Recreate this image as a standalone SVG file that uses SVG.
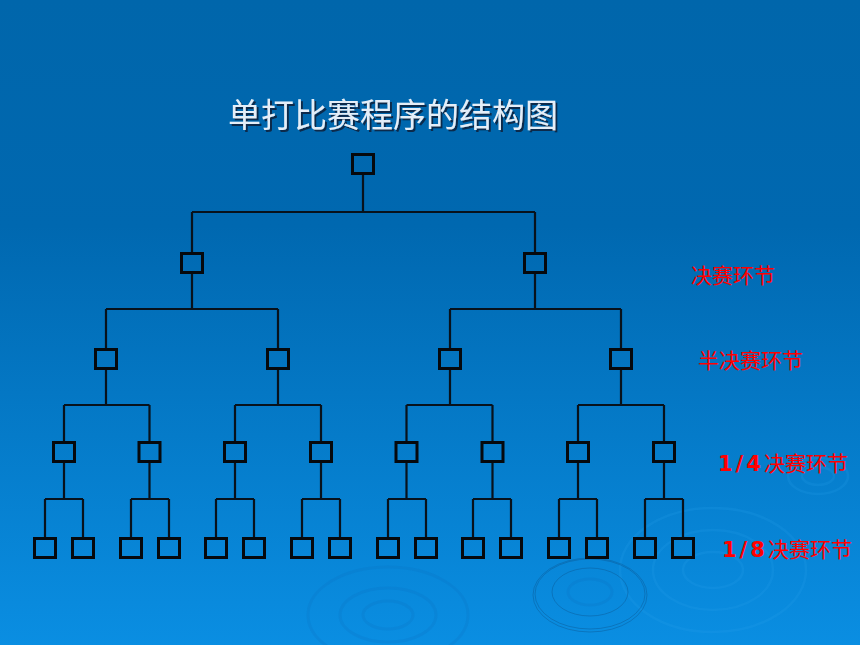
<svg xmlns="http://www.w3.org/2000/svg" width="860" height="645" viewBox="0 0 860 645">
  <defs>
    <linearGradient id="bg" x1="0" y1="0" x2="0" y2="1">
      <stop offset="0" stop-color="#0066ab"/>
      <stop offset="0.35" stop-color="#0068b0"/>
      <stop offset="1" stop-color="#0a8ee2"/>
    </linearGradient>
    <filter id="shadow" x="-10%" y="-30%" width="120%" height="160%">
      <feDropShadow dx="2" dy="2" stdDeviation="0.6" flood-color="#082238" flood-opacity="0.85"/>
    </filter>
    <style>
      .box { fill: none; stroke: #06090d; stroke-width: 3; }
      .line { fill: none; stroke: #08121c; stroke-width: 2.2; }
      .ripple-d { fill: none; stroke: #0a5a98; stroke-width: 0.8; opacity: 0.6; }
      .ripple-l { fill: none; stroke: #2aa0ec; stroke-width: 2.5; opacity: 0.2; }
      .ripple-m { fill: none; stroke: #0870bc; stroke-width: 3; opacity: 0.2; }
      .title { font-family: "Noto Sans CJK SC", "Noto Sans", sans-serif; font-size: 33px; fill: #e4eef8; }
      .lbl { font-family: "Noto Sans CJK SC", sans-serif; font-size: 21px; fill: #ff0000; }
      .num { font-family: "DejaVu Sans", "Liberation Sans", sans-serif; font-weight: bold; letter-spacing: 3px; }
    </style>
  </defs>

  <rect x="0" y="0" width="860" height="645" fill="url(#bg)"/>

  <!-- decorative ripples -->
  <g id="ripples">
    <ellipse class="ripple-l" cx="713" cy="570" rx="93" ry="62"/>
    <ellipse class="ripple-l" cx="713" cy="570" rx="60" ry="40"/>
    <ellipse class="ripple-l" cx="713" cy="570" rx="30" ry="18"/>
    <ellipse class="ripple-d" cx="590" cy="592" rx="38" ry="24"/>
    <ellipse class="ripple-d" cx="590" cy="594" rx="55" ry="35"/>
    <ellipse class="ripple-d" cx="590" cy="595" rx="57" ry="37"/>
    <ellipse class="ripple-m" cx="590" cy="592" rx="22" ry="13"/>
    <ellipse class="ripple-m" cx="388" cy="615" rx="48" ry="27"/>
    <ellipse class="ripple-m" cx="388" cy="615" rx="25" ry="14"/>
    <ellipse class="ripple-m" cx="388" cy="615" rx="80" ry="48"/>
    <ellipse class="ripple-l" cx="818" cy="476" rx="30" ry="18"/>
    <ellipse class="ripple-l" cx="818" cy="476" rx="16" ry="9"/>
  </g>

  <text class="title" x="228" y="127" filter="url(#shadow)">单打比赛程序的结构图</text>

  <g id="connectors">
    <!-- level 0 to 1 -->
    <path class="line" d="M363 175V212M192 212H535M192 212V252M535 212V252"/>
    <!-- level 1 to 2 -->
    <path class="line" d="M192 274V309M106 309H278M106 309V348M278 309V348"/>
    <path class="line" d="M535 274V309M450 309H621M450 309V348M621 309V348"/>
    <!-- level 2 to 3 -->
    <path class="line" d="M106 370V405M64 405H149.5M64 405V441M149.5 405V441"/>
    <path class="line" d="M278 370V405M235 405H321M235 405V441M321 405V441"/>
    <path class="line" d="M450 370V405M406.5 405H492.5M406.5 405V441M492.5 405V441"/>
    <path class="line" d="M621 370V405M578 405H664M578 405V441M664 405V441"/>
    <!-- level 3 to 4 -->
    <path class="line" d="M64 463V499M45 499H83M45 499V537M83 499V537"/>
    <path class="line" d="M149.5 463V499M131 499H169M131 499V537M169 499V537"/>
    <path class="line" d="M235 463V499M216 499H254M216 499V537M254 499V537"/>
    <path class="line" d="M321 463V499M302 499H340M302 499V537M340 499V537"/>
    <path class="line" d="M406.5 463V499M388 499H426M388 499V537M426 499V537"/>
    <path class="line" d="M492.5 463V499M473 499H511M473 499V537M511 499V537"/>
    <path class="line" d="M578 463V499M559 499H597M559 499V537M597 499V537"/>
    <path class="line" d="M664 463V499M645 499H683M645 499V537M683 499V537"/>
  </g>

  <g id="nodes">
    <g id="n0"><rect class="box" x="352.5" y="154.5" width="21" height="19"/></g>

    <g id="n1a"><rect class="box" x="181.5" y="253.5" width="21" height="19"/></g>
    <g id="n1b"><rect class="box" x="524.5" y="253.5" width="21" height="19"/></g>

    <g id="n2a"><rect class="box" x="95.5" y="349.5" width="21" height="19"/></g>
    <g id="n2b"><rect class="box" x="267.5" y="349.5" width="21" height="19"/></g>
    <g id="n2c"><rect class="box" x="439.5" y="349.5" width="21" height="19"/></g>
    <g id="n2d"><rect class="box" x="610.5" y="349.5" width="21" height="19"/></g>

    <g id="n3a"><rect class="box" x="53.5" y="442.5" width="21" height="19"/></g>
    <g id="n3b"><rect class="box" x="139" y="442.5" width="21" height="19"/></g>
    <g id="n3c"><rect class="box" x="224.5" y="442.5" width="21" height="19"/></g>
    <g id="n3d"><rect class="box" x="310.5" y="442.5" width="21" height="19"/></g>
    <g id="n3e"><rect class="box" x="396" y="442.5" width="21" height="19"/></g>
    <g id="n3f"><rect class="box" x="482" y="442.5" width="21" height="19"/></g>
    <g id="n3g"><rect class="box" x="567.5" y="442.5" width="21" height="19"/></g>
    <g id="n3h"><rect class="box" x="653.5" y="442.5" width="21" height="19"/></g>

    <g id="n4a"><rect class="box" x="34.5" y="538.5" width="21" height="19"/></g>
    <g id="n4b"><rect class="box" x="72.5" y="538.5" width="21" height="19"/></g>
    <g id="n4c"><rect class="box" x="120.5" y="538.5" width="21" height="19"/></g>
    <g id="n4d"><rect class="box" x="158.5" y="538.5" width="21" height="19"/></g>
    <g id="n4e"><rect class="box" x="205.5" y="538.5" width="21" height="19"/></g>
    <g id="n4f"><rect class="box" x="243.5" y="538.5" width="21" height="19"/></g>
    <g id="n4g"><rect class="box" x="291.5" y="538.5" width="21" height="19"/></g>
    <g id="n4h"><rect class="box" x="329.5" y="538.5" width="21" height="19"/></g>
    <g id="n4i"><rect class="box" x="377.5" y="538.5" width="21" height="19"/></g>
    <g id="n4j"><rect class="box" x="415.5" y="538.5" width="21" height="19"/></g>
    <g id="n4k"><rect class="box" x="462.5" y="538.5" width="21" height="19"/></g>
    <g id="n4l"><rect class="box" x="500.5" y="538.5" width="21" height="19"/></g>
    <g id="n4m"><rect class="box" x="548.5" y="538.5" width="21" height="19"/></g>
    <g id="n4n"><rect class="box" x="586.5" y="538.5" width="21" height="19"/></g>
    <g id="n4o"><rect class="box" x="634.5" y="538.5" width="21" height="19"/></g>
    <g id="n4p"><rect class="box" x="672.5" y="538.5" width="21" height="19"/></g>
  </g>

  <g id="labels">
    <text class="lbl" x="691" y="283">决赛环节</text>
    <text class="lbl" x="698" y="368">半决赛环节</text>
    <text class="lbl" x="718" y="471"><tspan class="num">1/4</tspan>决赛环节</text>
    <text class="lbl" x="722" y="557"><tspan class="num">1/8</tspan>决赛环节</text>
  </g>
</svg>
